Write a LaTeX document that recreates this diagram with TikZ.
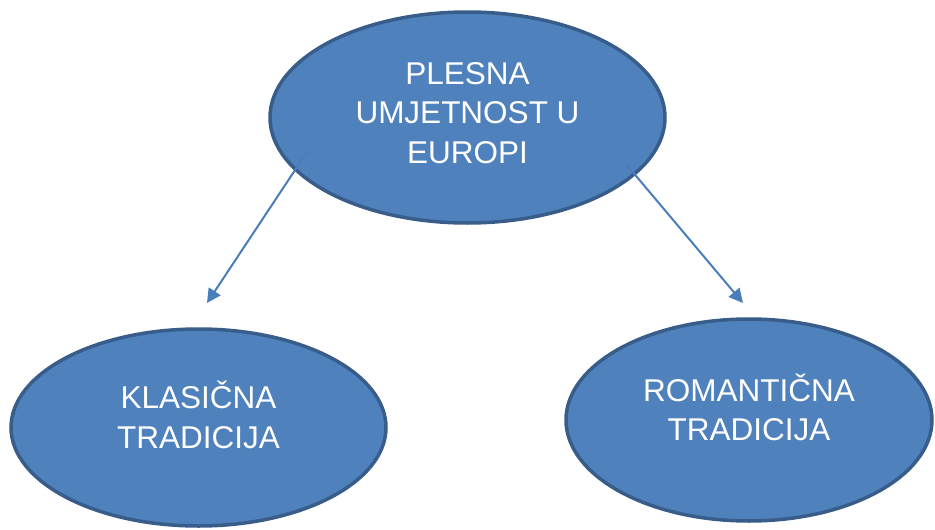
\documentclass[tikz,border=0pt]{standalone}
\usepackage{fontspec}
\setmainfont{Liberation Sans}
\usetikzlibrary{shapes.geometric,arrows.meta}
\definecolor{ovalfill}{HTML}{4F81BD}
\definecolor{ovalline}{HTML}{385D8A}
\definecolor{linkblue}{HTML}{4A7EBB}

\begin{document}
\begin{tikzpicture}[x=1pt,y=-1pt,
    oval/.style={ellipse,fill=ovalfill,draw=ovalline,line width=3.5pt,
      text=white,align=center,inner sep=0pt,
      font=\fontsize{31.5}{39.5}\selectfont},
    link/.style={linkblue,line width=2pt,-{Triangle[length=14pt,width=14pt]}}]
      \useasboundingbox (0,0) rectangle (935,530) ;
      \node[oval,minimum width=395pt,minimum height=211pt,text depth=9pt] %
      (dance) at (467.5,117.5) {PLESNA\\UMJETNOST U\\EUROPI} ;
      \node[oval,minimum width=375pt,minimum height=197pt,text depth=26pt] %
      (classic) at (198.5,427.5) {KLASIČNA\\TRADICIJA} ;
      \node[oval,minimum width=366pt,minimum height=202pt,text depth=26pt] %
      (romantic) at (749,420) {ROMANTIČNA\\TRADICIJA} ;
      \coordinate (dance-l) at (307,152) ;
      \coordinate (dance-r) at (626,164) ;
      \coordinate (classic-tip) at (207,303) ;
      \coordinate (romantic-tip) at (743,303) ;
      \draw[link] (dance-l)--(classic-tip) ;
      \draw[link] (dance-r)--(romantic-tip) ;
    \end{tikzpicture}
\end{document}
